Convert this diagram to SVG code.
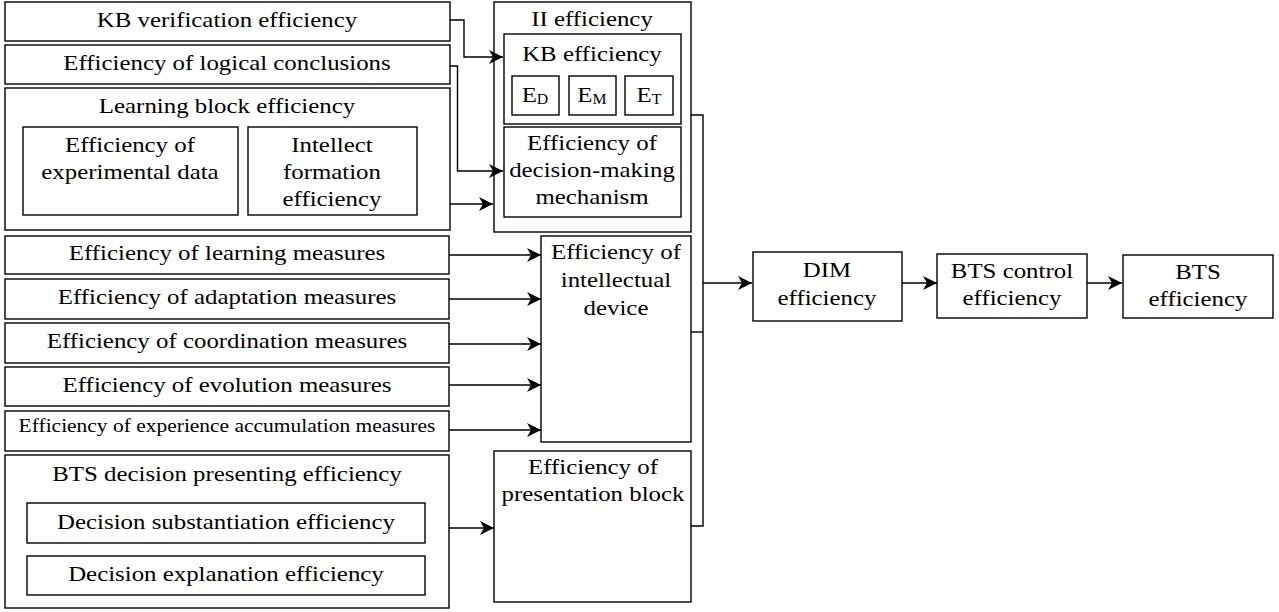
<svg xmlns="http://www.w3.org/2000/svg" width="1279" height="612" viewBox="0 0 1279 612" font-family="'Liberation Serif', 'Times New Roman', Times, serif">
<defs>
<style>
rect{fill:#fff;stroke:#000;stroke-width:1.4}
text{font-family:'Liberation Serif','Times New Roman',Times,serif;font-size:22px;fill:#000;text-anchor:middle;transform-box:fill-box;transform-origin:center;transform:scale(1.13,1)}
.sm{font-size:19px}
.sub{font-size:14px}
#connectors path{fill:none;stroke:#000;stroke-width:1.4}
</style>
<marker id="arr" markerUnits="userSpaceOnUse" markerWidth="16" markerHeight="14" refX="14" refY="7" orient="auto">
<path d="M0,0 L14,7 L0,14 L4,7 z" fill="#000"/>
</marker>
</defs>
<rect x="0" y="0" width="1279" height="612" style="stroke:none"/>

<g id="kb-verification"><rect x="5" y="2" width="445" height="39"/><text x="227" y="27">KB verification efficiency</text></g>
<g id="logical-conclusions"><rect x="5" y="45" width="445" height="39"/><text x="227" y="70">Efficiency of logical conclusions</text></g>
<g id="learning-block">
<rect x="5" y="88" width="445" height="142"/><text x="227" y="113">Learning block efficiency</text>
<g id="experimental-data"><rect x="23" y="127" width="215" height="88"/><text x="130" y="152">Efficiency of</text><text x="130" y="179">experimental data</text></g>
<g id="intellect-formation"><rect x="248" y="127" width="169" height="88"/><text x="332" y="152">Intellect</text><text x="332" y="179">formation</text><text x="332" y="206">efficiency</text></g>
</g>

<g id="ii-efficiency">
<rect x="494" y="2" width="197" height="230"/><text x="592" y="26">II efficiency</text>
<g id="kb-efficiency"><rect x="504" y="34" width="177" height="90"/><text x="592" y="61">KB efficiency</text>
<g id="ed"><rect x="512" y="76" width="47" height="39"/><text x="535" y="102">E<tspan class="sub" dy="2">D</tspan></text></g>
<g id="em"><rect x="569" y="76" width="47" height="39"/><text x="592" y="102">E<tspan class="sub" dy="2">M</tspan></text></g>
<g id="et"><rect x="625" y="76" width="48" height="39"/><text x="649" y="102">E<tspan class="sub" dy="2">T</tspan></text></g>
</g>
<g id="decision-making"><rect x="504" y="127" width="177" height="90"/><text x="592" y="150">Efficiency of</text><text x="592" y="177">decision-making</text><text x="592" y="204">mechanism</text></g>
</g>

<g id="learning-measures"><rect x="5" y="236" width="444" height="38"/><text x="227" y="260">Efficiency of learning measures</text></g>
<g id="adaptation-measures"><rect x="5" y="279" width="444" height="40"/><text x="227" y="304">Efficiency of adaptation measures</text></g>
<g id="coordination-measures"><rect x="5" y="323" width="444" height="40"/><text x="227" y="348">Efficiency of coordination measures</text></g>
<g id="evolution-measures"><rect x="5" y="367" width="444" height="39"/><text x="227" y="392">Efficiency of evolution measures</text></g>
<g id="experience-measures"><rect x="5" y="411" width="444" height="40"/><text class="sm" x="227" y="432">Efficiency of experience accumulation measures</text></g>

<g id="intellectual-device"><rect x="541" y="236" width="150" height="206"/><text x="616" y="259">Efficiency of</text><text x="616" y="287">intellectual</text><text x="616" y="315">device</text></g>

<g id="bts-decision">
<rect x="5" y="455" width="444" height="153"/><text x="227" y="481">BTS decision presenting efficiency</text>
<g id="substantiation"><rect x="27" y="503" width="398" height="40"/><text x="226" y="529">Decision substantiation efficiency</text></g>
<g id="explanation"><rect x="27" y="556" width="398" height="39"/><text x="226" y="581">Decision explanation efficiency</text></g>
</g>

<g id="presentation-block"><rect x="494" y="451" width="197" height="151"/><text x="593" y="474">Efficiency of</text><text x="593" y="501">presentation block</text></g>

<g id="dim"><rect x="753" y="252" width="149" height="69"/><text x="827" y="277">DIM</text><text x="827" y="305">efficiency</text></g>
<g id="bts-control"><rect x="937" y="254" width="150" height="64"/><text x="1012" y="278">BTS control</text><text x="1012" y="305">efficiency</text></g>
<g id="bts-efficiency"><rect x="1123" y="255" width="150" height="63"/><text x="1198" y="279">BTS</text><text x="1198" y="306">efficiency</text></g>

<g id="connectors">
<path d="M450,20 H464 V57 H503" marker-end="url(#arr)"/>
<path d="M450,66 H457.5 V171 H503" marker-end="url(#arr)"/>
<path d="M450,204 H493" marker-end="url(#arr)"/>
<path d="M449,255 H541" marker-end="url(#arr)"/>
<path d="M449,299 H541" marker-end="url(#arr)"/>
<path d="M449,344 H541" marker-end="url(#arr)"/>
<path d="M449,385 H541" marker-end="url(#arr)"/>
<path d="M449,430 H541" marker-end="url(#arr)"/>
<path d="M449,528 H494" marker-end="url(#arr)"/>
<path d="M691,115 H703 V526 H691"/>
<path d="M691,332 H703"/>
<path d="M703,283 H752" marker-end="url(#arr)"/>
<path d="M902,283 H937" marker-end="url(#arr)"/>
<path d="M1087,283 H1122" marker-end="url(#arr)"/>
</g>
</svg>
